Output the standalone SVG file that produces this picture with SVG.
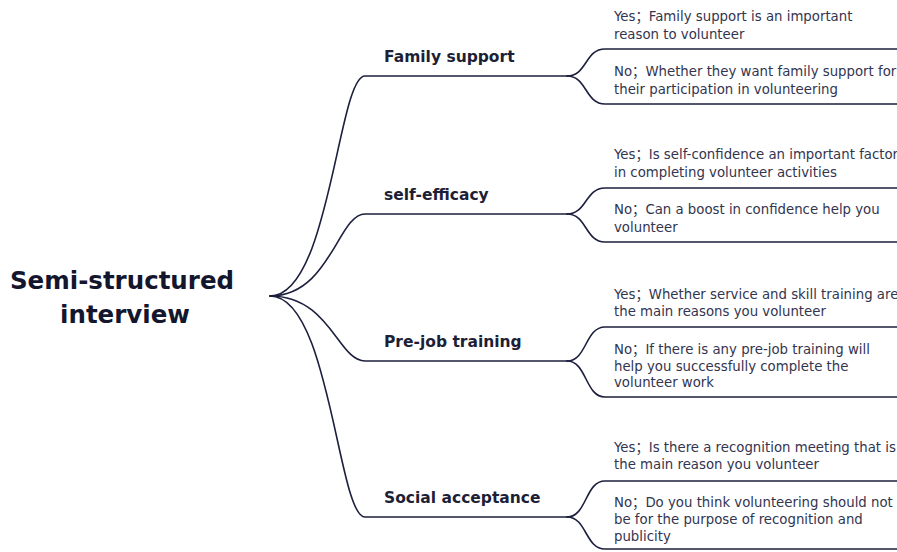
<svg xmlns="http://www.w3.org/2000/svg" width="897" height="552" viewBox="0 0 897 552">
<style>
.ln{fill:none;stroke:#1c1f3d;stroke-width:1.6;stroke-linecap:round}
.root{font-family:"DejaVu Sans","Noto Sans",sans-serif;font-weight:bold;font-size:24.5px;fill:#14162e;text-anchor:middle}
.br{font-family:"DejaVu Sans","Noto Sans",sans-serif;font-weight:bold;font-size:15.5px;fill:#1d1f36}
.lf{font-family:"DejaVu Sans","Noto Sans CJK SC",sans-serif;font-size:13.3px;fill:#33354f}
</style>
<rect width="897" height="552" fill="#ffffff"/>
<g id="connectors">
<path class="ln" d="M270,296 C330,296 338,76 365,76 L567,76"/>
<path class="ln" d="M270,296 C330,296 338,214 365,214 L567,214"/>
<path class="ln" d="M270,296 C330,296 338,361 365,361 L567,361"/>
<path class="ln" d="M270,296 C330,296 338,517 365,517 L567,517"/>
<path class="ln" d="M567,76 C587,76 585,49 605,49 L897,49"/>
<path class="ln" d="M567,76 C587,76 585,104 605,104 L897,104"/>
<path class="ln" d="M567,214 C587,214 585,188 605,188 L897,188"/>
<path class="ln" d="M567,214 C587,214 585,242 605,242 L897,242"/>
<path class="ln" d="M567,361 C587,361 585,327 605,327 L897,327"/>
<path class="ln" d="M567,361 C587,361 585,397 605,397 L897,397"/>
<path class="ln" d="M567,517 C587,517 585,481 605,481 L897,481"/>
<path class="ln" d="M567,517 C587,517 585,549 605,549 L897,549"/>
</g>
<g id="root"><text class="root" x="122" y="289">Semi-structured</text><text class="root" x="125" y="323">interview</text></g>
<g id="b1"><text class="br" x="384" y="62">Family support</text></g>
<g id="b2"><text class="br" x="384" y="200">self-efficacy</text></g>
<g id="b3"><text class="br" x="384" y="347">Pre-job training</text></g>
<g id="b4"><text class="br" x="384" y="503">Social acceptance</text></g>
<g id="b1y"><text class="lf" x="614" y="21">Yes；Family support is an important</text><text class="lf" x="614" y="39">reason to volunteer</text></g>
<g id="b1n"><text class="lf" x="614" y="76">No；Whether they want family support for</text><text class="lf" x="614" y="94">their participation in volunteering</text></g>
<g id="b2y"><text class="lf" x="614" y="159">Yes；Is self-confidence an important factor</text><text class="lf" x="614" y="177">in completing volunteer activities</text></g>
<g id="b2n"><text class="lf" x="614" y="214">No；Can a boost in confidence help you</text><text class="lf" x="614" y="232">volunteer</text></g>
<g id="b3y"><text class="lf" x="614" y="299">Yes；Whether service and skill training are</text><text class="lf" x="614" y="316">the main reasons you volunteer</text></g>
<g id="b3n"><text class="lf" x="614" y="354">No；If there is any pre-job training will</text><text class="lf" x="614" y="371">help you successfully complete the</text><text class="lf" x="614" y="387">volunteer work</text></g>
<g id="b4y"><text class="lf" x="614" y="452">Yes；Is there a recognition meeting that is</text><text class="lf" x="614" y="469">the main reason you volunteer</text></g>
<g id="b4n"><text class="lf" x="614" y="507">No；Do you think volunteering should not</text><text class="lf" x="614" y="524">be for the purpose of recognition and</text><text class="lf" x="614" y="541">publicity</text></g>
</svg>
